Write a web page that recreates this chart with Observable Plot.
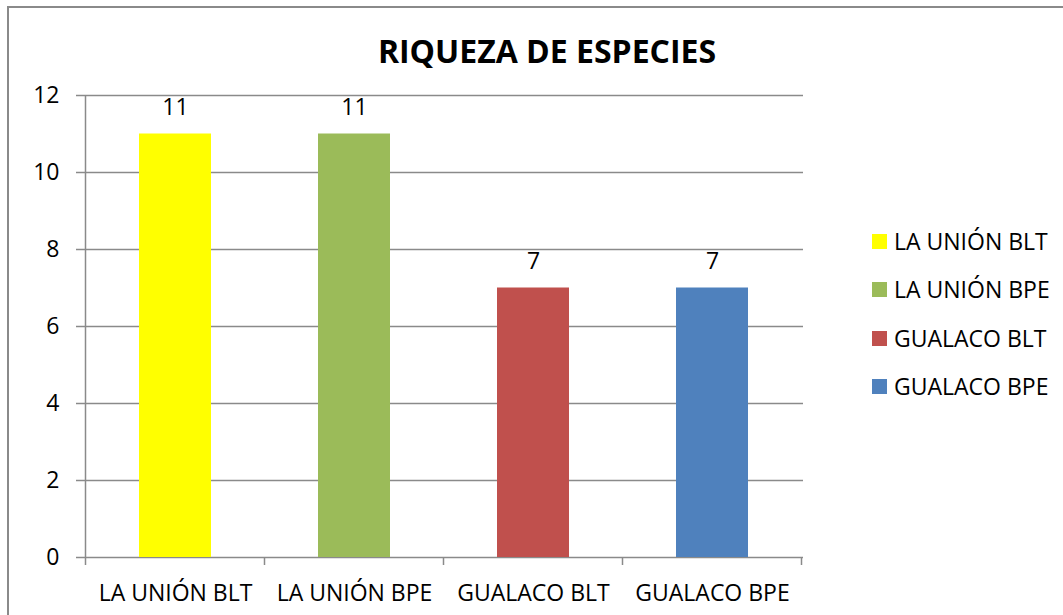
<!DOCTYPE html>
<html><head><meta charset="utf-8">
<script src="https://cdn.jsdelivr.net/npm/d3@7"></script>
<script src="https://cdn.jsdelivr.net/npm/@observablehq/plot@0.6"></script>
<style>
  body { margin:0; background:#fff; }
  #wrap { position:relative; width:1063px; height:615px; overflow:hidden; font-family:"Open Sans", sans-serif; color:#000; }
  #chart { position:absolute; left:0; top:0; }
  #border { position:absolute; left:7px; top:6px; width:1200px; height:800px; border-top:2px solid #8a8a8a; border-left:2px solid #8a8a8a; pointer-events:none; }
  #title { position:absolute; left:0; top:35px; width:1094px; text-align:center; font-weight:bold; font-size:32px; line-height:32px; }
  .lg { position:absolute; left:872px; height:23px; font-size:23px; line-height:23px; white-space:nowrap; }
  .lg span.sw { position:absolute; left:0; top:4px; width:15px; height:15px; }
  .lg span.tx { position:absolute; left:22px; top:0; }
</style>
</head><body>
<div id="wrap">
  <div id="chart"></div>
  <div id="title">RIQUEZA DE ESPECIES</div>
  <div id="legend"></div>
  <div id="border"></div>
</div>
<script>
// ---- data ----
const categories = ["LA UNIÓN BLT", "LA UNIÓN BPE", "GUALACO BLT", "GUALACO BPE"];
const values = [11, 11, 7, 7];
const colors = ["#FFFF00", "#9BBB59", "#C0504D", "#4F81BD"];
const yTicks = [0, 2, 4, 6, 8, 10, 12];
const chartTitle = "RIQUEZA DE ESPECIES";

const data = categories.map((c, i) => ({name: c, value: values[i]}));
const grid = "#8a8a8a";

const plot = Plot.plot({
  width: 1063,
  height: 615,
  marginLeft: 84,
  marginRight: 260,
  marginTop: 95,
  marginBottom: 58,
  style: {fontFamily: "'Open Sans', sans-serif", fontSize: "23px", color: "#000", background: "transparent", overflow: "visible"},
  x: {domain: categories, paddingInner: 0.6, paddingOuter: 0.3},
  y: {domain: [0, 12]},
  color: {domain: categories, range: colors},
  marks: [
    Plot.ruleY(yTicks, {y: d => d, stroke: grid, strokeWidth: 1.5, insetLeft: -8}),
    Plot.barY(data, {x: "name", y: "value", fill: "name"}),
    Plot.text(data, {x: "name", y: "value", text: d => String(d.value), dy: -26, fontSize: 23, fill: "#000"}),
    Plot.axisY({ticks: yTicks, tickSize: 0, tickPadding: 25, fontSize: 23, label: null, fill: "#000"}),
    Plot.axisX({tickSize: 0, tickPadding: 27, fontSize: 23, label: null, fill: "#000"})
  ]
});
document.getElementById("chart").appendChild(plot);

// axis line and category-boundary ticks drawn from Plot's own scales
const xs = plot.scale("x"), ys = plot.scale("y");
const svg = d3.select(plot);
const y0 = ys.apply(0), yTop = ys.apply(12);
const half = (xs.step - xs.bandwidth) / 2;
const bounds = categories.map(c => xs.apply(c) - half);
bounds.push(xs.apply(categories[categories.length - 1]) + xs.bandwidth + half);
const g = svg.append("g").attr("stroke", grid).attr("stroke-width", 1.5);
g.append("line").attr("x1", bounds[0]).attr("x2", bounds[0]).attr("y1", yTop).attr("y2", y0);
for (const b of bounds) g.append("line").attr("x1", b).attr("x2", b).attr("y1", y0).attr("y2", y0 + 8);

// legend
const lg = document.getElementById("legend");
categories.forEach((c, i) => {
  const row = document.createElement("div");
  row.className = "lg";
  row.style.top = (230 + i * 48.3) + "px";
  row.innerHTML = `<span class="sw" style="background:${colors[i]}"></span><span class="tx">${c}</span>`;
  lg.appendChild(row);
});
document.getElementById("title").textContent = chartTitle;
</script>
</body></html>
